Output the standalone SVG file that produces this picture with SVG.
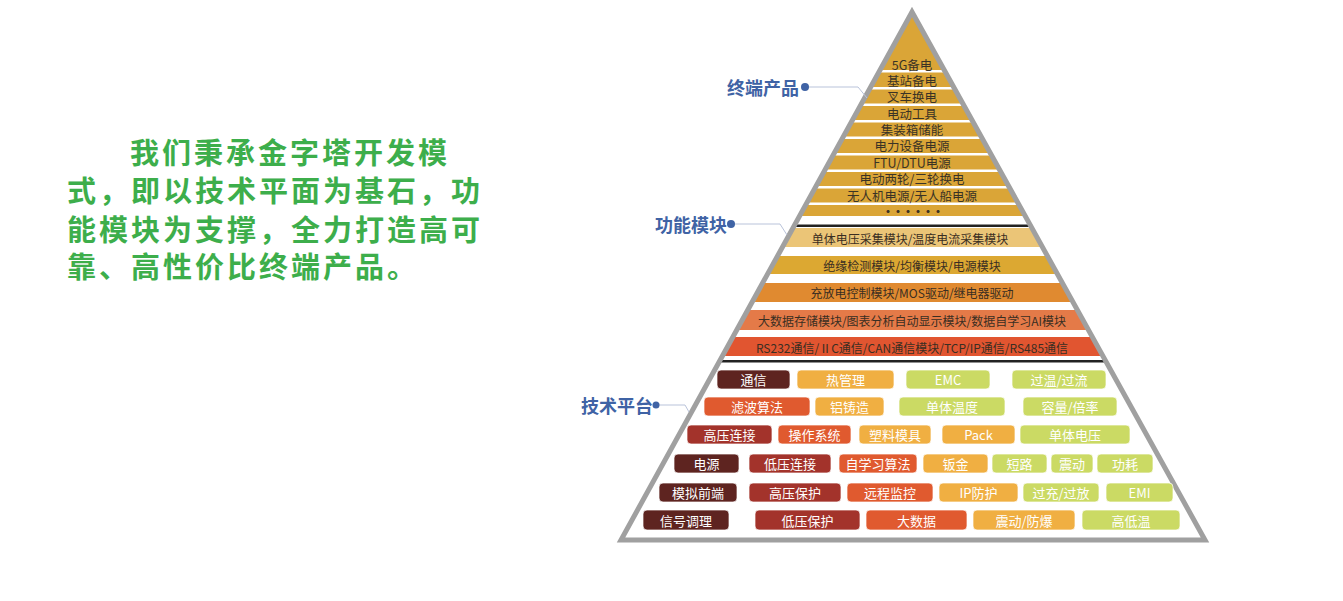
<svg xmlns="http://www.w3.org/2000/svg" width="1343" height="601" viewBox="0 0 1343 601">
<style>
text{font-family:"Noto Sans CJK SC","Noto Sans",sans-serif;}
.intro{font-size:29px;fill:#3DAE4B;letter-spacing:3px;font-weight:bold;}
.lbl{font-size:18px;font-weight:bold;fill:#3F63A5;dominant-baseline:central;text-anchor:end;}
.dot{fill:#3F63A5;}
.lead{fill:none;stroke:#B9C3DA;stroke-width:1;}
.top{font-size:12.5px;fill:#3A3325;text-anchor:middle;dominant-baseline:central;}
.fn{font-size:12px;fill:#3A2E22;text-anchor:middle;dominant-baseline:central;}
.sep{fill:#fff;}
.pill rect{stroke:#fff;stroke-opacity:.7;stroke-width:1;}
.pill text{font-size:13px;fill:#fff;text-anchor:middle;dominant-baseline:central;}
.c1{fill:#5E2420;}
.c2{fill:#A3332B;}
.c3{fill:#E05A2F;}
.c4{fill:#F0AF42;}
.c5{fill:#CBDA64;}
</style>
<defs>
<clipPath id="tri"><path d="M912,12 L621,540 L1205,540 Z"/></clipPath>
</defs>
<rect width="1343" height="601" fill="#fff"/>

<g id="intro">
<text class="intro" x="130" y="164">我们秉承金字塔开发模</text>
<text class="intro" x="67" y="202">式，即以技术平面为基石，功</text>
<text class="intro" x="67" y="241">能模块为支撑，全力打造高可</text>
<text class="intro" x="67" y="278">靠、高性价比终端产品。</text>
</g>

<g id="pyramid">
<path d="M912,12 L621,540 L1205,540 Z" fill="#fff"/>
<g clip-path="url(#tri)">
<rect x="600" y="0" width="640" height="216" fill="#DAA537"/>
<rect class="sep" x="600" y="70" width="640" height="2.5"/>
<rect class="sep" x="600" y="87" width="640" height="2.5"/>
<rect class="sep" x="600" y="103.5" width="640" height="2.5"/>
<rect class="sep" x="600" y="120" width="640" height="2.5"/>
<rect class="sep" x="600" y="136.5" width="640" height="2.5"/>
<rect class="sep" x="600" y="153" width="640" height="2.5"/>
<rect class="sep" x="600" y="169.5" width="640" height="2.5"/>
<rect class="sep" x="600" y="186" width="640" height="2.5"/>
<rect class="sep" x="600" y="202.5" width="640" height="2.5"/>
<rect x="600" y="224.5" width="640" height="2.5" fill="#222"/>
<rect x="600" y="228" width="640" height="19" fill="#EBC577"/>
<rect x="600" y="256" width="640" height="18" fill="#DCA832"/>
<rect x="600" y="283" width="640" height="19" fill="#E08A30"/>
<rect x="600" y="310" width="640" height="20" fill="#E47A48"/>
<rect x="600" y="337" width="640" height="19" fill="#E15530"/>
<rect x="600" y="360" width="640" height="2.5" fill="#222"/>
</g>
<path d="M912,12 L621,540 L1205,540 Z" fill="none" stroke="#A0A0A0" stroke-width="5" stroke-linejoin="miter"/>
</g>

<g id="products">
<text class="top" x="912" y="64">5G备电</text>
<text class="top" x="912" y="80">基站备电</text>
<text class="top" x="912" y="96.5">叉车换电</text>
<text class="top" x="912" y="113">电动工具</text>
<text class="top" x="912" y="129">集装箱储能</text>
<text class="top" x="912" y="145.5">电力设备电源</text>
<text class="top" x="912" y="162">FTU/DTU电源</text>
<text class="top" x="912" y="178.5">电动两轮/三轮换电</text>
<text class="top" x="912" y="195">无人机电源/无人船电源</text>
<text class="top" x="912" y="211" style="font-weight:bold;letter-spacing:-2px;font-size:12px">······</text>
</g>

<g id="modules">
<text class="fn" x="910" y="238">单体电压采集模块/温度电流采集模块</text>
<text class="fn" x="912" y="265">绝缘检测模块/均衡模块/电源模块</text>
<text class="fn" x="912" y="292.5">充放电控制模块/MOS驱动/继电器驱动</text>
<text class="fn" x="912" y="320">大数据存储模块/图表分析自动显示模块/数据自学习AI模块</text>
<text class="fn" x="912" y="347">RS232通信/ⅡC通信/CAN通信模块/TCP/IP通信/RS485通信</text>
</g>

<g id="platform">
<g class="pill" id="p-tongxin"><rect class="c1" x="717" y="370" width="73" height="19" rx="4"/><text x="753.5" y="379.5">通信</text></g>
<g class="pill" id="p-reguanli"><rect class="c4" x="797" y="370" width="97" height="19" rx="4"/><text x="845.5" y="379.5">热管理</text></g>
<g class="pill" id="p-emc"><rect class="c5" x="906" y="370" width="84" height="19" rx="4"/><text x="948" y="379.5">EMC</text></g>
<g class="pill" id="p-guowen"><rect class="c5" x="1012" y="370" width="94" height="19" rx="4"/><text x="1059" y="379.5">过温/过流</text></g>

<g class="pill" id="p-lvbo"><rect class="c3" x="704" y="397" width="106" height="19" rx="4"/><text x="757" y="406.5">滤波算法</text></g>
<g class="pill" id="p-lvzhu"><rect class="c4" x="815" y="397" width="69" height="19" rx="4"/><text x="849.5" y="406.5">铝铸造</text></g>
<g class="pill" id="p-dtwendu"><rect class="c5" x="899" y="397" width="106" height="19" rx="4"/><text x="952" y="406.5">单体温度</text></g>
<g class="pill" id="p-rongliang"><rect class="c5" x="1023" y="397" width="94" height="19" rx="4"/><text x="1070" y="406.5">容量/倍率</text></g>

<g class="pill" id="p-gylj"><rect class="c2" x="687" y="425" width="85" height="19" rx="4"/><text x="729.5" y="434.5">高压连接</text></g>
<g class="pill" id="p-czxt"><rect class="c3" x="778" y="425" width="73" height="19" rx="4"/><text x="814.5" y="434.5">操作系统</text></g>
<g class="pill" id="p-slmj"><rect class="c4" x="859" y="425" width="72" height="19" rx="4"/><text x="895" y="434.5">塑料模具</text></g>
<g class="pill" id="p-pack"><rect class="c4" x="942" y="425" width="73" height="19" rx="4"/><text x="978.5" y="434.5">Pack</text></g>
<g class="pill" id="p-dtdy"><rect class="c5" x="1020" y="425" width="110" height="19" rx="4"/><text x="1075" y="434.5">单体电压</text></g>

<g class="pill" id="p-dianyuan"><rect class="c1" x="674" y="454" width="65" height="19" rx="4"/><text x="706.5" y="463.5">电源</text></g>
<g class="pill" id="p-dylj"><rect class="c2" x="749" y="454" width="82" height="19" rx="4"/><text x="790" y="463.5">低压连接</text></g>
<g class="pill" id="p-zxx"><rect class="c3" x="839" y="454" width="78" height="19" rx="4"/><text x="878" y="463.5">自学习算法</text></g>
<g class="pill" id="p-banjin"><rect class="c4" x="923" y="454" width="65" height="19" rx="4"/><text x="955.5" y="463.5">钣金</text></g>
<g class="pill" id="p-duanlu"><rect class="c5" x="992" y="454" width="55" height="19" rx="4"/><text x="1019.5" y="463.5">短路</text></g>
<g class="pill" id="p-zhendong"><rect class="c5" x="1051" y="454" width="42" height="19" rx="4"/><text x="1072" y="463.5">震动</text></g>
<g class="pill" id="p-gonghao"><rect class="c5" x="1097" y="454" width="56" height="19" rx="4"/><text x="1125" y="463.5">功耗</text></g>

<g class="pill" id="p-mnqd"><rect class="c1" x="659" y="483" width="78" height="19" rx="4"/><text x="698" y="492.5">模拟前端</text></g>
<g class="pill" id="p-gybh"><rect class="c2" x="749" y="483" width="92" height="19" rx="4"/><text x="795" y="492.5">高压保护</text></g>
<g class="pill" id="p-ycjk"><rect class="c3" x="847" y="483" width="86" height="19" rx="4"/><text x="890" y="492.5">远程监控</text></g>
<g class="pill" id="p-ipfh"><rect class="c4" x="939" y="483" width="79" height="19" rx="4"/><text x="978.5" y="492.5">IP防护</text></g>
<g class="pill" id="p-guochong"><rect class="c5" x="1023" y="483" width="76" height="19" rx="4"/><text x="1061" y="492.5">过充/过放</text></g>
<g class="pill" id="p-emi"><rect class="c5" x="1106" y="483" width="67" height="19" rx="4"/><text x="1139.5" y="492.5">EMI</text></g>

<g class="pill" id="p-xhtl"><rect class="c1" x="643" y="510" width="86" height="20" rx="4"/><text x="686" y="520">信号调理</text></g>
<g class="pill" id="p-dybh"><rect class="c2" x="755" y="510" width="105" height="20" rx="4"/><text x="807.5" y="520">低压保护</text></g>
<g class="pill" id="p-dashuju"><rect class="c3" x="866" y="510" width="101" height="20" rx="4"/><text x="916.5" y="520">大数据</text></g>
<g class="pill" id="p-zdfb"><rect class="c4" x="973" y="510" width="102" height="20" rx="4"/><text x="1024" y="520">震动/防爆</text></g>
<g class="pill" id="p-gdw"><rect class="c5" x="1082" y="510" width="98" height="20" rx="4"/><text x="1131" y="520">高低温</text></g>
</g>

<g id="connectors">
<path class="lead" d="M805,87 L858,87 L867,98"/>
<path class="lead" d="M731,224 L780,224 L787,235"/>
<path class="lead" d="M656,405 L685,405 L689,412"/>
</g>

<g id="label-products"><text class="lbl" x="799" y="87">终端产品</text><circle class="dot" cx="805" cy="87" r="4"/></g>
<g id="label-modules"><text class="lbl" x="727" y="224">功能模块</text><circle class="dot" cx="731" cy="224" r="4"/></g>
<g id="label-platform"><text class="lbl" x="653" y="405">技术平台</text><circle class="dot" cx="656" cy="405" r="3.5"/></g>
</svg>
